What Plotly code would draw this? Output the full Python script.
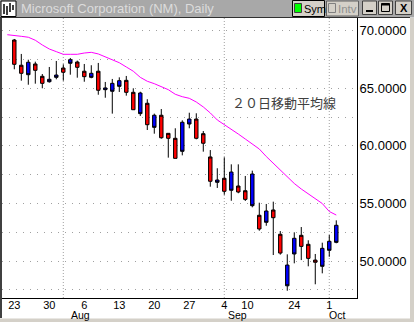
import pandas as pd
import plotly.graph_objects as go

# ---------------- data ----------------
holidays = ["2001-09-03", "2001-09-11", "2001-09-12", "2001-09-13", "2001-09-14"]
all_days = [d for d in pd.bdate_range("2001-07-20", "2001-10-02").strftime("%Y-%m-%d") if d not in holidays]
candle_days = all_days[1:]          # candles start 2001-07-23; MA line starts one day earlier

open_ = [67.08, 66.30, 67.26, 66.56, 65.43, 65.78, 66.15, 66.39, 67.48, 66.82, 66.01, 66.30, 64.83, 65.03,
         65.43, 65.66, 64.65, 63.14, 64.59, 61.84, 62.66, 60.71, 60.66, 58.92, 62.05, 62.33, 60.66, 60.23,
         56.93, 57.04, 56.06, 57.73, 56.00, 55.36, 57.56, 52.79, 54.35, 53.77, 50.70, 49.66, 51.98, 51.28,
         50.24, 49.90, 51.11, 51.72, 53.11]
high = [69.28, 67.98, 67.48, 67.31, 66.24, 66.85, 67.37, 67.08, 67.63, 67.40, 67.11, 67.00, 67.20, 65.55,
        65.81, 65.95, 66.07, 65.00, 64.70, 64.05, 62.80, 63.20, 61.09, 61.53, 62.22, 62.88, 62.83, 61.29,
        59.64, 58.06, 59.01, 58.40, 58.40, 57.39, 57.85, 55.07, 54.96, 55.16, 52.61, 50.59, 52.50, 52.96,
        51.81, 50.62, 51.60, 52.27, 53.54]
low = [66.65, 65.66, 65.31, 65.40, 65.00, 65.49, 65.78, 65.66, 66.18, 65.92, 65.57, 65.87, 64.44, 64.18,
       62.80, 64.68, 64.36, 63.12, 62.60, 61.38, 61.06, 60.62, 58.98, 58.92, 59.18, 61.53, 60.57, 59.50,
       56.46, 56.35, 55.76, 55.24, 55.89, 55.22, 54.67, 52.64, 53.07, 50.53, 50.56, 47.43, 49.81, 50.09,
       49.55, 47.99, 48.94, 50.38, 51.55]
close = [69.19, 67.00, 66.18, 67.11, 66.04, 65.57, 65.95, 66.76, 67.17, 67.28, 66.48, 65.95, 66.48, 64.88,
         64.74, 65.17, 65.69, 64.65, 62.80, 63.70, 61.61, 62.66, 61.09, 60.66, 59.53, 61.90, 62.33, 61.06,
         59.04, 56.84, 57.19, 56.15, 56.52, 56.11, 54.81, 53.98, 53.37, 54.44, 52.33, 47.86, 50.62, 52.24,
         51.46, 50.09, 49.55, 50.94, 51.63]
ma20 = [69.65, 69.60, 69.51, 69.43, 69.17, 68.76, 68.41, 68.18, 67.95, 67.95, 67.95, 68.06, 68.12, 67.98,
        67.74, 67.48, 67.22, 66.85, 66.48, 65.95, 65.61, 65.40, 65.17, 64.88, 64.48, 64.27, 64.13, 63.81,
        63.38, 62.86, 62.25, 61.86, 61.47, 61.03, 60.60, 60.16, 59.73, 59.08, 58.49, 57.91, 57.30, 56.74,
        56.26, 55.82, 55.39, 55.00, 54.31, 54.00]

tick_days = ["2001-07-23", "2001-07-30", "2001-08-06", "2001-08-13", "2001-08-20", "2001-08-27",
             "2001-09-04", "2001-09-10", "2001-09-24", "2001-10-01"]
tick_text = ["23", "30", "6", "13", "20", "27", "4", "10", "24", "1"]
month_days = ["2001-08-01", "2001-09-04", "2001-10-01"]
month_text = ["Aug", "Sep", "Oct"]
y_ticks = [47.5, 50, 52.5, 55, 57.5, 60, 62.5, 65, 67.5, 70]

# ---------------- geometry helpers ----------------
W, H = 414, 322
ML, MR, MT, MB = 2, 57, 18, 24
pos = {d: i for i, d in enumerate(all_days)}
cx = [pos[d] for d in candle_days]
max_x = [pos[d] for d in all_days]


def px(x):
    return (x - ML) / (W - ML - MR)


def py(y):
    return (H - MB - y) / (H - MT - MB)


fig = go.Figure()
fig.add_trace(go.Candlestick(
    x=cx, open=open_, high=high, low=low, close=close,
    increasing=dict(line=dict(color="black", width=1), fillcolor="#ff0000"),
    decreasing=dict(line=dict(color="black", width=1), fillcolor="#0000ff"),
    whiskerwidth=0, showlegend=False, hoverinfo="skip"))
fig.add_trace(go.Scatter(x=max_x, y=ma20, mode="lines", line=dict(color="#ff00ff", width=1),
                         showlegend=False, hoverinfo="skip"))

shapes = []
# month vertical dotted grid lines
for d in month_days:
    shapes.append(dict(type="line", xref="x", yref="paper", x0=pos[d], x1=pos[d], y0=0, y1=1,
                       line=dict(color="#a0a0a0", width=1, dash="1px,2px"), layer="below"))

# window chrome
shapes += [
    dict(type="rect", xref="paper", yref="paper", x0=px(0), x1=px(414), y0=py(0), y1=py(17.5),
         fillcolor="#a8a8a8", line=dict(width=0)),
    dict(type="line", xref="paper", yref="paper", x0=px(0), x1=px(410), y0=py(17.5), y1=py(17.5),
         line=dict(color="#303030", width=1)),
    dict(type="rect", xref="paper", yref="paper", x0=px(0), x1=px(2), y0=py(18), y1=py(318),
         fillcolor="#404040", line=dict(width=0)),
    dict(type="rect", xref="paper", yref="paper", x0=px(0), x1=px(414), y0=py(318.5), y1=py(322),
         fillcolor="#d4d0c8", line=dict(width=0)),
    dict(type="rect", xref="paper", yref="paper", x0=px(410), x1=px(414), y0=py(18), y1=py(322),
         fillcolor="#d4d0c8", line=dict(width=0)),
    # icon
    dict(type="rect", xref="paper", yref="paper", x0=px(1), x1=px(16), y0=py(1), y1=py(16.5),
         fillcolor="white", line=dict(color="black", width=1)),
    # Sym button
    dict(type="rect", xref="paper", yref="paper", x0=px(292.5), x1=px(324.5), y0=py(0.5), y1=py(16.5),
         fillcolor="#d4d0c8", line=dict(color="black", width=1)),
    dict(type="rect", xref="paper", yref="paper", x0=px(294.5), x1=px(301.5), y0=py(3.5), y1=py(12.5),
         fillcolor="#00ff00", line=dict(color="#404040", width=1)),
    # Intv button
    dict(type="rect", xref="paper", yref="paper", x0=px(326.5), x1=px(358.5), y0=py(1), y1=py(16),
         fillcolor="#d4d0c8", line=dict(color="#606060", width=1)),
    dict(type="rect", xref="paper", yref="paper", x0=px(328.5), x1=px(335.5), y0=py(3.5), y1=py(12.5),
         fillcolor="#d4d0c8", line=dict(color="#808080", width=1)),
    # min / max / close
    dict(type="rect", xref="paper", yref="paper", x0=px(362.5), x1=px(376.5), y0=py(1), y1=py(14.5),
         fillcolor="#d4d0c8", line=dict(color="#404040", width=1)),
    dict(type="rect", xref="paper", yref="paper", x0=px(378.5), x1=px(392.5), y0=py(1), y1=py(14.5),
         fillcolor="#d4d0c8", line=dict(color="#404040", width=1)),
    dict(type="rect", xref="paper", yref="paper", x0=px(395.5), x1=px(411.5), y0=py(1), y1=py(14.5),
         fillcolor="#d4d0c8", line=dict(color="#404040", width=1)),
    dict(type="line", xref="paper", yref="paper", x0=px(366), x1=px(373), y0=py(11), y1=py(11),
         line=dict(color="black", width=2)),
    dict(type="rect", xref="paper", yref="paper", x0=px(381.5), x1=px(389.5), y0=py(3.5), y1=py(11.5),
         line=dict(color="black", width=1)),
    dict(type="line", xref="paper", yref="paper", x0=px(381.5), x1=px(389.5), y0=py(4.5), y1=py(4.5),
         line=dict(color="black", width=2)),
]
# icon glyph bars
for x0, y0, y1 in [(4, 4, 14), (7, 6, 15), (10, 3, 12), (13, 5, 10)]:
    shapes.append(dict(type="line", xref="paper", yref="paper", x0=px(x0), x1=px(x0), y0=py(y0), y1=py(y1),
                       line=dict(color="black", width=1.5)))

annotations = [
    dict(xref="paper", yref="paper", x=px(19), y=py(9), xanchor="left", yanchor="middle",
         text="Microsoft Corporation (NM), Daily", showarrow=False,
         font=dict(family="Liberation Sans", size=13, color="#dcdcdc")),
    dict(xref="paper", yref="paper", x=px(302), y=py(9), xanchor="left", yanchor="middle",
         text="Sym", showarrow=False, font=dict(family="Liberation Sans", size=11, color="black")),
    dict(xref="paper", yref="paper", x=px(336), y=py(9), xanchor="left", yanchor="middle",
         text="Intv", showarrow=False, font=dict(family="Liberation Sans", size=11.5, color="#909090")),
    dict(xref="paper", yref="paper", x=px(403.5), y=py(8), xanchor="center", yanchor="middle",
         text="<b>X</b>", showarrow=False, font=dict(family="Liberation Sans", size=11, color="black")),
    dict(xref="paper", yref="paper", x=px(283.5), y=py(102), xanchor="center", yanchor="middle",
         text="２０日移動平均線", showarrow=False,
         font=dict(family="Noto Sans CJK JP", size=13, color="#404040")),
]
month_shift = [7, 3, -1]
for d, t, s in zip(month_days, month_text, month_shift):
    annotations.append(dict(xref="x", yref="paper", x=pos[d], y=py(315), xanchor="left", yanchor="middle",
                            xshift=s, text=t, showarrow=False, borderpad=0,
                            font=dict(family="Liberation Sans", size=10.5, color="black")))

label_shift = {"10": -0.7}
tickvals = [pos[d] + label_shift.get(t, 0) for d, t in zip(tick_days, tick_text)]

fig.update_layout(
    width=W, height=H, margin=dict(l=ML, r=MR, t=MT, b=MB),
    paper_bgcolor="white", plot_bgcolor="white",
    shapes=shapes, annotations=annotations,
    xaxis=dict(range=[-0.757, 49.96], rangeslider=dict(visible=False), showgrid=False, zeroline=False,
               showline=True, linecolor="black", linewidth=1, ticks="",
               tickmode="array", tickvals=tickvals, ticktext=tick_text, ticklabelstandoff=-3,
               tickfont=dict(family="Liberation Sans", size=11, color="black")),
    yaxis=dict(range=[46.80, 71.10], side="right", showgrid=True, gridcolor="#a0a0a0", griddash="1px,6px",
               zeroline=False, showline=True, linecolor="black", linewidth=1, ticks="",
               tickmode="array", tickvals=y_ticks,
               ticktext=[f"{v:.4f}" if v % 5 == 0 else "" for v in y_ticks],
               tickfont=dict(family="Liberation Sans", size=13, color="black"), ticklabelstandoff=-1),
)
fig.write_html("out.html")
